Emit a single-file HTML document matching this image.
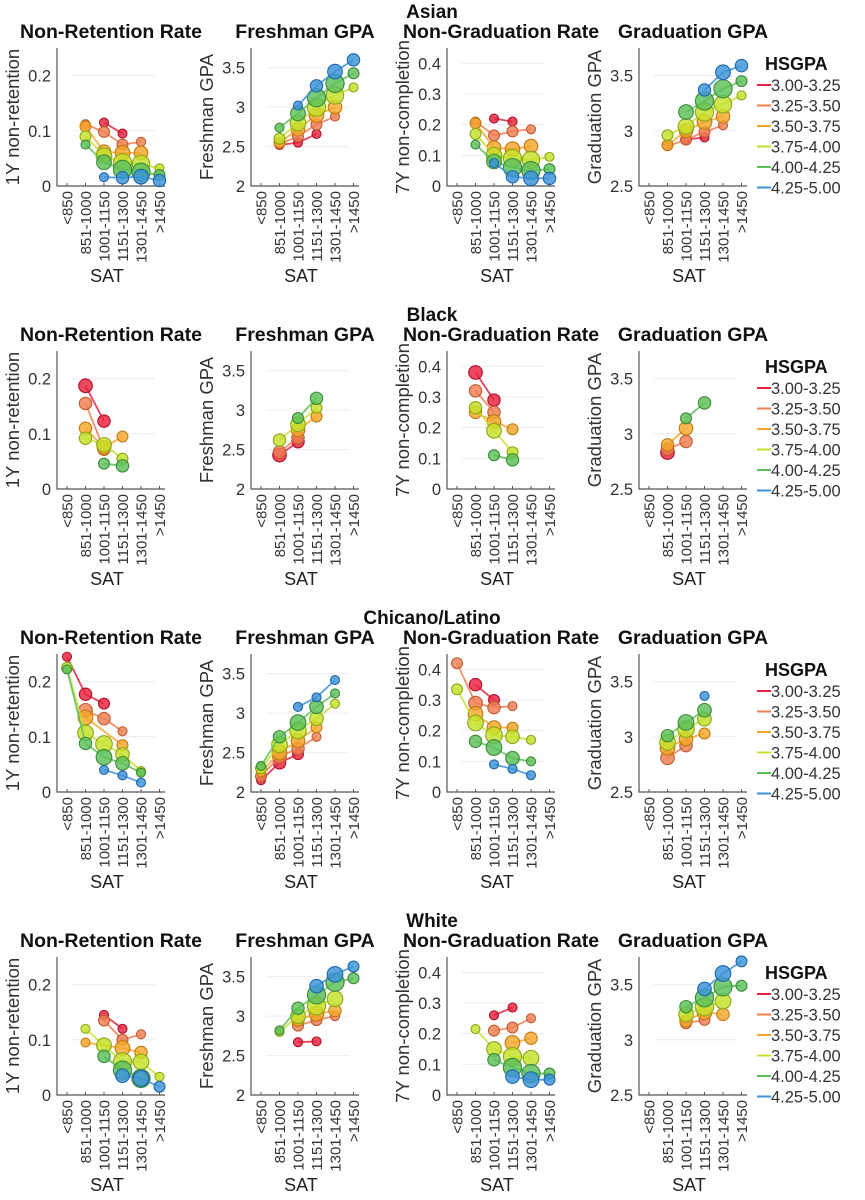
<!DOCTYPE html>
<html><head><meta charset="utf-8">
<style>
html,body{margin:0;padding:0;background:#fff;}
svg{display:block;font-family:"Liberation Sans",Arial,sans-serif;}
</style></head>
<body>
<svg id="chart" width="865" height="1200" viewBox="0 0 865 1200" xmlns="http://www.w3.org/2000/svg"></svg>
<script>
// ---- data ----
const categories = ["<850","851-1000","1001-1150","1151-1300","1301-1450",">1450"];
const seriesNames = ["3.00-3.25","3.25-3.50","3.50-3.75","3.75-4.00","4.00-4.25","4.25-5.00"];
const races = ["Asian","Black","Chicano/Latino","White"];
const panelTitles = ["Non-Retention Rate","Freshman GPA","Non-Graduation Rate","Graduation GPA"];
const yLabels = ["1Y non-retention","Freshman GPA","7Y non-completion","Graduation GPA"];
const yDomains = [[0,0.25],[2,3.75],[0,0.45],[2.5,3.75]];
const yTicks = [[0,0.1,0.2],[2,2.5,3,3.5],[0,0.1,0.2,0.3,0.4],[2.5,3,3.5]];
const yTickLabels = [["0","0.1","0.2"],["2","2.5","3","3.5"],["0","0.1","0.2","0.3","0.4"],["2.5","3","3.5"]];
const N = null;
// Asian
const asianNR = [[N,N,0.115,0.095,N,N],[N,0.112,0.098,0.075,0.08,N],[N,0.108,0.062,0.06,0.06,N],[N,0.09,0.055,0.042,0.04,0.032],[N,0.075,0.043,0.03,0.025,0.02],[N,N,0.016,0.015,0.017,0.01]];
const asianFG = [[N,2.52,2.55,2.66,N,N],[N,2.53,2.63,2.78,2.88,N],[N,2.55,2.72,2.9,3.0,N],[N,2.6,2.8,3.0,3.15,3.25],[N,2.74,2.92,3.12,3.3,3.43],[N,N,3.02,3.27,3.45,3.6]];
const asianNG = [[N,N,0.22,0.21,N,N],[N,0.21,0.165,0.178,0.185,N],[N,0.205,0.125,0.12,0.13,N],[N,0.17,0.1,0.09,0.085,0.095],[N,0.135,0.08,0.06,0.05,0.055],[N,N,0.075,0.03,0.025,0.025]];
const asianGG = [[N,N,2.92,2.94,N,N],[N,2.86,2.92,2.99,3.05,N],[N,2.87,3.0,3.08,3.13,N],[N,2.96,3.04,3.17,3.24,3.32],[N,N,3.17,3.27,3.38,3.45],[N,N,N,3.37,3.53,3.59]];
const asianCounts = [[0,1,1,1,0,0],[0,1,2,2,1,0],[0,2,4,5,4,0],[0,2,6,9,8,1],[0,1,5,9,9,2],[0,0,1,3,5,3]];
// Black
const blackNR = [[N,0.187,0.123,N,N,N],[N,0.155,0.072,N,N,N],[N,0.11,0.075,0.095,N,N],[N,0.092,0.08,0.055,N,N],[N,N,0.046,0.042,N,N],[N,N,N,N,N,N]];
const blackFG = [[N,2.43,2.6,N,N,N],[N,2.47,2.65,N,N,N],[N,N,2.75,2.92,N,N],[N,2.62,2.82,3.03,N,N],[N,N,2.9,3.15,N,N],[N,N,N,N,N,N]];
const blackNG = [[N,0.38,0.29,N,N,N],[N,0.32,0.25,N,N,N],[N,0.25,0.22,0.195,N,N],[N,0.265,0.19,0.12,N,N],[N,N,0.11,0.095,N,N],[N,N,N,N,N,N]];
const blackGG = [[N,2.83,N,N,N,N],[N,2.86,2.93,N,N,N],[N,2.9,3.05,N,N,N],[N,N,N,N,N,N],[N,N,3.14,3.28,N,N],[N,N,N,N,N,N]];
const blackCounts = [[0,4,3,0,0,0],[0,3,3,0,0,0],[0,3,4,2,0,0],[0,3,5,2,0,0],[0,0,2,3,0,0],[0,0,0,0,0,0]];
// Chicano/Latino
const latinoNR = [[0.245,0.177,0.16,N,N,N],[N,0.148,0.133,0.11,N,N],[N,0.135,N,0.085,N,N],[0.225,0.107,0.087,0.068,0.038,N],[0.222,0.088,0.063,0.052,0.035,N],[N,N,0.04,0.03,0.017,N]];
const latinoFG = [[2.15,2.37,2.48,N,N,N],[2.2,2.45,2.55,2.7,N,N],[2.25,2.5,2.65,2.82,N,N],[2.3,2.6,2.78,2.93,3.12,N],[2.33,2.7,2.88,3.08,3.25,N],[N,N,3.08,3.2,3.42,N]];
const latinoNG = [[N,0.35,0.3,N,N,N],[0.42,0.29,0.275,0.28,N,N],[N,0.255,0.21,0.21,N,N],[0.335,0.225,0.185,0.18,0.17,N],[N,0.165,0.145,0.11,0.1,N],[N,N,0.09,0.075,0.055,N]];
const latinoGG = [[N,N,N,N,N,N],[N,2.81,2.92,N,N,N],[N,2.9,2.98,3.03,N,N],[N,2.95,3.07,3.16,N,N],[N,3.01,3.13,3.24,N,N],[N,N,N,3.37,N,N]];
const latinoCounts = [[1,3,2,0,0,0],[2,4,3,1,0,0],[1,5,4,2,0,0],[2,6,7,4,1,0],[1,3,6,4,1,0],[0,0,1,1,1,0]];
// White
const whiteNR = [[N,N,0.145,0.12,N,N],[N,N,0.135,0.1,0.11,N],[N,0.095,N,0.085,0.077,N],[N,0.12,0.09,0.06,0.06,0.033],[N,N,0.07,0.045,0.03,N],[N,N,N,0.035,0.03,0.015]];
const whiteFG = [[N,N,2.67,2.68,N,N],[N,N,2.88,2.95,3.0,N],[N,N,2.95,3.03,3.07,N],[N,2.8,3.0,3.13,3.22,N],[N,2.82,3.1,3.27,3.43,3.48],[N,N,N,3.38,3.53,3.63]];
const whiteNG = [[N,N,0.26,0.285,N,N],[N,N,0.21,0.22,0.25,N],[N,N,N,0.17,0.185,N],[N,0.215,0.15,0.125,0.12,N],[N,N,0.115,0.09,0.07,0.07],[N,N,N,0.06,0.05,0.05]];
const whiteGG = [[N,N,N,N,N,N],[N,N,3.15,3.18,N,N],[N,N,3.17,3.25,3.23,N],[N,N,3.23,3.3,3.35,N],[N,N,3.3,3.38,3.48,3.49],[N,N,N,3.46,3.6,3.71]];
const whiteCounts = [[0,0,1,1,1,0],[0,1,2,2,1,0],[0,1,3,5,3,0],[0,1,5,9,6,1],[0,1,3,9,9,2],[0,0,0,4,6,2]];

const raceData = [
  [asianNR,asianFG,asianNG,asianGG],
  [blackNR,blackFG,blackNG,blackGG],
  [latinoNR,latinoFG,latinoNG,latinoGG],
  [whiteNR,whiteFG,whiteNG,whiteGG]
];
const raceCounts = [asianCounts,blackCounts,latinoCounts,whiteCounts];

// ---- layout / style ----
const colors = ["#e8203c","#ef7e52","#f4a62a","#c6e02a","#5cbf58","#3a92d8"];
const edges  = ["#b01028","#c05a30","#c07a10","#8aa818","#3a8a3a","#1e66a8"];
const rowBottoms = [186,489,792,1095];
const axisLefts = [57,251,447,639];
const AH = 138, AW = 108;
const NS = "http://www.w3.org/2000/svg";
const svg = document.getElementById("chart");
function mk(tag, attrs, parent, text){
  const e = document.createElementNS(NS, tag);
  for (const k in attrs) e.setAttribute(k, attrs[k]);
  if (text !== undefined) e.textContent = text;
  (parent || svg).appendChild(e);
  return e;
}
function xScale(left, i){ return left + 10 + i*18.5; }
function yScale(bottom, dom, v){ return bottom - (v - dom[0])/(dom[1]-dom[0])*AH; }
function radius(c){ return 2.2 + 2.3*Math.sqrt(Math.max(c,1)); }

races.forEach((race, r) => {
  const bottom = rowBottoms[r];
  const top = bottom - AH;
  const rowG = mk("g", {});
  
  
  const rt = mk("text", {x:432, y:top-30, "text-anchor":"middle", "font-size":19, "font-weight":"bold", fill:"#111"}, rowG, race);
  
  

  for (let p = 0; p < 4; p++){
    const left = axisLefts[p];
    const dom = yDomains[p];
    const g = mk("g", {}, rowG);
    
    
    const pt = mk("text", {x:left+AW/2, y:top-10, "text-anchor":"middle", "font-size":19.5, "font-weight":"bold", fill:"#111"}, g, panelTitles[p]);
    
    
    yTicks[p].forEach((t, k) => {
      const y = yScale(bottom, dom, t);
      if (k > 0) {
        const gl = mk("line", {x1:left+15, x2:left+AW-10, y1:y, y2:y, stroke:"#ececf0", "stroke-width":1}, g);
        
        
      }
      const tl = mk("text", {x:left-6, y:y+6, "text-anchor":"end", "font-size":16.5, fill:"#333"}, g, yTickLabels[p][k]);
      
      
    });
    const ax = mk("path", {d:`M${left},${top} V${bottom} H${left+AW}`, fill:"none", stroke:"#555", "stroke-width":1.2}, g);
    
    
    categories.forEach((c, i) => {
      const x = xScale(left, i);
      const tk = mk("line", {x1:x, x2:x, y1:bottom, y2:bottom-3, stroke:"#555", "stroke-width":1}, g);
      
      
      const xl = mk("text", {x:0, y:0, transform:`translate(${x+5.5},${bottom+5}) rotate(-90)`, "text-anchor":"end", "font-size":15, fill:"#333"}, g, c);
      
      
    });
    const st = mk("text", {x:left+AW/2-4, y:bottom+96, "text-anchor":"middle", "font-size":18, fill:"#222"}, g, "SAT");
    
    
    const yl = mk("text", {x:0, y:0, transform:`translate(${left-38},${top+AH/2}) rotate(-90)`, "text-anchor":"middle", "font-size":18.5, fill:"#333"}, g, yLabels[p]);
    
    

    const data = raceData[r][p];
    const counts = raceCounts[r];
    data.forEach((ser, s) => {
      const sg = mk("g", {}, g);
      
      
      let d = "";
      ser.forEach((v, i) => {
        if (v === null) return;
        d += (d ? " L" : "M") + xScale(left, i) + "," + yScale(bottom, dom, v);
      });
      if (d) {
        const ln = mk("path", {d:d, fill:"none", stroke:colors[s], "stroke-width":1.8, opacity:0.85}, sg);
        
        
      }
      ser.forEach((v, i) => {
        if (v === null) return;
        const c = mk("circle", {cx:xScale(left, i), cy:yScale(bottom, dom, v), r:radius(counts[s][i]), fill:colors[s], "fill-opacity":0.82, stroke:edges[s], "stroke-width":1.1}, sg);
        
        
      });
    });
  }
  const lg = mk("g", {}, rowG);
  
  
  const lt = mk("text", {x:765, y:top+22, "font-size":18, "font-weight":"bold", fill:"#111"}, lg, "HSGPA");
  
  
  seriesNames.forEach((n, s) => {
    const y = top + 37 + s*20.5;
    const le = mk("g", {}, lg);
    
    
    mk("line", {x1:757, x2:771, y1:y, y2:y, stroke:colors[s], "stroke-width":2}, le);
    mk("text", {x:771, y:y+6, "font-size":16.5, fill:"#333"}, le, n);
  });
});
</script>
</body></html>
